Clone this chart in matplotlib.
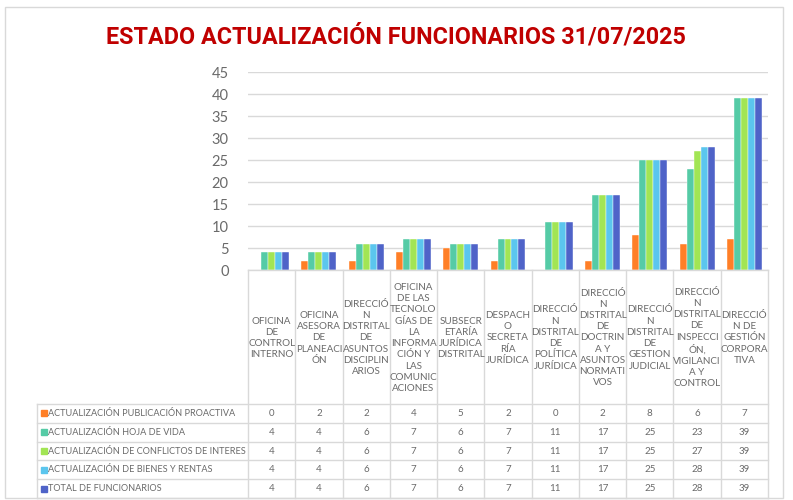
import matplotlib
matplotlib.use("Agg")
import matplotlib.pyplot as plt
import numpy as np
from matplotlib.patches import Rectangle

# Datos
categorias = [
    "OFICINA\nDE\nCONTROL\nINTERNO",
    "OFICINA\nASESORA\nDE\nPLANEACI\nÓN",
    "DIRECCIÓ\nN\nDISTRITAL\nDE\nASUNTOS\nDISCIPLIN\nARIOS",
    "OFICINA\nDE LAS\nTECNOLO\nGÍAS DE\nLA\nINFORMA\nCIÓN Y\nLAS\nCOMUNIC\nACIONES",
    "SUBSECR\nETARÍA\nJURÍDICA\nDISTRITAL",
    "DESPACH\nO\nSECRETA\nRÍA\nJURÍDICA",
    "DIRECCIÓ\nN\nDISTRITAL\nDE\nPOLÍTICA\nJURÍDICA",
    "DIRECCIÓ\nN\nDISTRITAL\nDE\nDOCTRIN\nA Y\nASUNTOS\nNORMATI\nVOS",
    "DIRECCIÓ\nN\nDISTRITAL\nDE\nGESTION\nJUDICIAL",
    "DIRECCIÓ\nN\nDISTRITAL\nDE\nINSPECCI\nÓN,\nVIGILANCI\nA Y\nCONTROL",
    "DIRECCIÓ\nN DE\nGESTIÓN\nCORPORA\nTIVA",
]
series_nombres = [
    "ACTUALIZACIÓN PUBLICACIÓN PROACTIVA",
    "ACTUALIZACIÓN HOJA DE VIDA",
    "ACTUALIZACIÓN DE CONFLICTOS DE INTERES",
    "ACTUALIZACIÓN DE BIENES Y RENTAS",
    "TOTAL DE FUNCIONARIOS",
]
publicacion = [0, 2, 2, 4, 5, 2, 0, 2, 8, 6, 7]
hoja_vida = [4, 4, 6, 7, 6, 7, 11, 17, 25, 23, 39]
conflictos = [4, 4, 6, 7, 6, 7, 11, 17, 25, 27, 39]
bienes = [4, 4, 6, 7, 6, 7, 11, 17, 25, 28, 39]
total = [4, 4, 6, 7, 6, 7, 11, 17, 25, 28, 39]
series = [publicacion, hoja_vida, conflictos, bienes, total]
colores = ["#FF7F27", "#55CBA6", "#A2E554", "#5BC6EE", "#4F63C8"]

plt.rcParams['font.family'] = ['Lato', 'DejaVu Sans']
gris = "#6A6A6A"
linea = "#D9D9D9"

W, H = 793, 500
fig = plt.figure(figsize=(W / 100, H / 100), dpi=100)


def fx(px):
    return px / W


def fy(py):
    return 1 - py / H


# marco del gráfico
fig.patches.append(Rectangle((fx(5), fy(498)), fx(783) - fx(5), fy(7) - fy(498),
                             transform=fig.transFigure, fill=False,
                             edgecolor=linea, linewidth=1))

# Título
fig.text(fx(396), fy(37), "ESTADO ACTUALIZACIÓN FUNCIONARIOS 31/07/2025",
         ha='center', va='center', color="#C00000", fontsize=16.8, fontweight='bold',
         family=['Liberation Sans Narrow', 'Roboto', 'DejaVu Sans'])

# Barras
left, right, top, base = 248, 768, 72, 270
ax = fig.add_axes([fx(left), fy(base), fx(right) - fx(left), (base - top) / H])
n = len(categorias)
x = np.arange(n)
ancho = 0.148
for i, (vals, c) in enumerate(zip(series, colores)):
    ax.bar(x + (i - 2) * ancho, vals, width=ancho, color=c, edgecolor='white',
           linewidth=0.3, zorder=3)
ax.set_xlim(-0.5, n - 0.5)
ax.set_ylim(0, 45)
ax.set_yticks(range(0, 46, 5))
ax.set_xticks([])
ax.grid(axis='y', color=linea, linewidth=1, zorder=0)
ax.tick_params(axis='y', length=0, pad=14, labelsize=10.5, labelcolor=gris)
for s in ax.spines.values():
    s.set_visible(False)

# Tabla de datos
tleft, tbot = 37, 498
col_w = (right - left) / n
k = (left - tleft) / col_w
tax = fig.add_axes([fx(tleft), fy(tbot), fx(right) - fx(tleft), (tbot - base) / H])
tax.set_xlim(-0.5 - k, n - 0.5)
tax.set_ylim(tbot, base)
tax.axis('off')

fila_top = 404
fila_h = (tbot - fila_top) / len(series)

# líneas verticales de columnas
for j in range(n + 1):
    tax.plot([j - 0.5, j - 0.5], [base, tbot], color=linea, lw=1, clip_on=False)
tax.plot([-0.5 - k, -0.5 - k], [fila_top, tbot], color=linea, lw=1, clip_on=False)
tax.plot([-0.5, n - 0.5], [base, base], color=linea, lw=1, clip_on=False)
for r in range(len(series) + 1):
    y = fila_top + r * fila_h
    tax.plot([-0.5 - k, n - 0.5], [y, y], color=linea, lw=1, clip_on=False)

# encabezados
for j, lab in enumerate(categorias):
    tax.text(j, (base + fila_top) / 2 + 1, lab, ha='center', va='center', fontsize=7.1,
             color=gris, linespacing=1.32)

# filas
for r, (nombre, vals, c) in enumerate(zip(series_nombres, series, colores)):
    yc = fila_top + (r + 0.5) * fila_h
    tax.plot(-0.5 - k + 7 / col_w, yc, marker='s', markersize=5, color=c,
             linestyle='none', clip_on=False)
    tax.text(-0.5 - k + 11 / col_w, yc, nombre, ha='left', va='center',
             fontsize=6.6, color=gris)
    for j, v in enumerate(vals):
        tax.text(j, yc, str(v), ha='center', va='center', fontsize=7, color=gris)

fig.savefig("out.png", dpi=100, facecolor='white')
